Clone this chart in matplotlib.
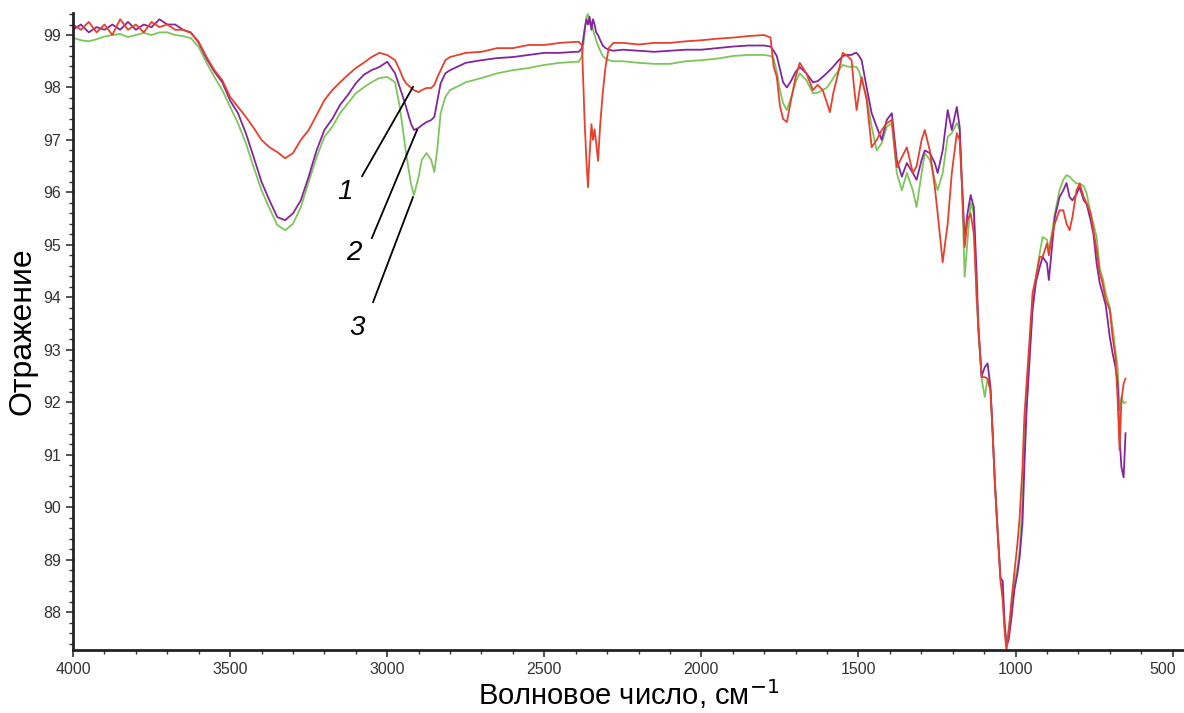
import matplotlib
matplotlib.use("Agg")
import matplotlib.pyplot as plt
from matplotlib.ticker import MultipleLocator
from matplotlib.transforms import ScaledTranslation

plt.rcParams['font.family'] = ['Liberation Sans', 'DejaVu Sans']

# wavenumber grid, cm-1
wavenumber = [4000, 3975, 3950, 3925, 3900, 3875, 3850, 3825, 3800, 3775,
              3750, 3725, 3700, 3675, 3650, 3625, 3600, 3575, 3550, 3525,
              3500, 3475, 3450, 3425, 3400, 3375, 3350, 3325, 3300, 3275,
              3250, 3225, 3200, 3175, 3150, 3125, 3100, 3075, 3050, 3025,
              3000, 2975, 2960, 2950, 2940, 2925, 2915, 2900, 2890, 2875,
              2860, 2850, 2840, 2830, 2815, 2800, 2750, 2700, 2650, 2600,
              2550, 2500, 2450, 2400, 2390, 2380, 2372, 2366, 2361, 2356,
              2350, 2345, 2340, 2335, 2329, 2322, 2314, 2305, 2295, 2280,
              2250, 2200, 2150, 2100, 2050, 2000, 1950, 1900, 1850, 1800,
              1780, 1770, 1760, 1750, 1740, 1728, 1715, 1700, 1687, 1666,
              1645, 1630, 1614, 1600, 1591, 1580, 1570, 1550, 1535, 1522,
              1514, 1506, 1498, 1490, 1474, 1458, 1442, 1426, 1410, 1394,
              1378, 1362, 1346, 1327, 1315, 1299, 1289, 1273, 1257, 1248,
              1232, 1216, 1203, 1187, 1178, 1171, 1162, 1153, 1143, 1133,
              1124, 1118, 1108, 1098, 1089, 1080, 1073, 1066, 1057, 1048,
              1041, 1035, 1029, 1022, 1013, 1004, 994, 987, 978, 972,
              965, 955, 946, 935, 923, 914, 900, 894, 885, 875,
              860, 848, 838, 828, 819, 806, 796, 783, 774, 761,
              752, 742, 732, 723, 713, 700, 691, 682, 675, 669,
              663, 656, 650]

# sample 1 (red)
red = [99.2, 99.1, 99.25, 99.05, 99.2, 99.0, 99.3, 99.1, 99.2, 99.05,
       99.25, 99.15, 99.2, 99.1, 99.1, 99.04, 98.87, 98.58, 98.33, 98.14,
       97.82, 97.63, 97.44, 97.23, 97.0, 96.86, 96.77, 96.65, 96.75, 97.0,
       97.19, 97.47, 97.76, 97.95, 98.1, 98.24, 98.37, 98.47, 98.58, 98.66,
       98.62, 98.52, 98.33, 98.18, 98.08, 98.0, 97.95, 97.91, 97.95, 97.99,
       97.99, 98.05, 98.2, 98.33, 98.52, 98.58, 98.66, 98.68, 98.75, 98.75,
       98.81, 98.81, 98.85, 98.87, 98.87, 98.8, 97.4, 96.6, 96.1, 96.7,
       97.3, 97.0, 97.2, 96.95, 96.6, 97.3, 97.9, 98.4, 98.75, 98.85,
       98.85, 98.82, 98.85, 98.85, 98.88, 98.9, 98.93, 98.95, 98.98, 99.0,
       98.95, 98.4, 98.2, 97.65, 97.4, 97.34, 97.75, 98.2, 98.47, 98.27,
       97.95, 98.05, 97.95, 97.7, 97.53, 97.9, 98.14, 98.66, 98.6, 98.52,
       98.0, 97.57, 97.9, 98.2, 97.76, 96.86, 97.0, 97.19, 97.32, 97.38,
       96.48, 96.67, 96.86, 96.37, 96.5, 97.0, 97.19, 96.8, 96.1, 95.6,
       94.67, 95.41, 96.37, 97.13, 97.0, 96.18, 94.96, 95.47, 95.6, 95.22,
       94.08, 93.38, 92.48, 92.48, 92.45, 92.23, 91.41, 90.46, 89.5, 88.6,
       88.23, 87.65, 87.28, 87.6, 88.23, 88.74, 89.31, 89.81, 90.76, 91.72,
       92.36, 93.24, 94.08, 94.39, 94.77, 94.77, 95.03, 94.8, 95.15, 95.41,
       95.66, 95.66, 95.41, 95.28, 95.53, 96.04, 96.17, 95.91, 95.8, 95.6,
       95.28, 94.9, 94.46, 94.27, 93.95, 93.76, 93.24, 92.86, 92.04, 91.09,
       92.04, 92.36, 92.45]

# sample 2 (purple)
purple = [99.1, 99.2, 99.05, 99.15, 99.1, 99.2, 99.1, 99.25, 99.1, 99.2,
          99.15, 99.3, 99.2, 99.2, 99.1, 99.05, 98.85, 98.55, 98.3, 98.1,
          97.75, 97.51, 97.13, 96.67, 96.2, 95.85, 95.53, 95.47, 95.6, 95.85,
          96.3, 96.8, 97.19, 97.4, 97.67, 97.86, 98.08, 98.24, 98.33, 98.39,
          98.49, 98.27, 98.0, 97.82, 97.63, 97.32, 97.19, 97.23, 97.28, 97.34,
          97.38, 97.44, 97.76, 98.08, 98.27, 98.33, 98.47, 98.52, 98.56, 98.58,
          98.62, 98.66, 98.66, 98.68, 98.68, 98.75, 99.1, 99.3, 99.2, 99.35,
          99.1, 99.3, 99.2, 99.05, 99.0, 98.9, 98.8, 98.75, 98.72, 98.7,
          98.72, 98.7, 98.68, 98.7, 98.72, 98.72, 98.75, 98.78, 98.8, 98.8,
          98.78, 98.7, 98.6, 98.35, 98.1, 98.0, 98.12, 98.3, 98.39, 98.27,
          98.1, 98.12, 98.2, 98.28, 98.33, 98.4, 98.47, 98.6, 98.62, 98.62,
          98.65, 98.66, 98.6, 98.52, 98.0, 97.51, 97.25, 97.0, 97.38, 97.51,
          96.62, 96.3, 96.56, 96.37, 96.24, 96.62, 96.8, 96.75, 96.56, 96.37,
          96.8, 97.57, 97.19, 97.63, 97.25, 96.24, 95.09, 95.6, 95.95, 95.72,
          94.46, 93.4, 92.5, 92.67, 92.74, 92.3, 91.45, 90.5, 89.55, 88.65,
          88.6, 87.8, 87.35, 87.47, 87.9, 88.42, 88.74, 89.05, 89.7, 90.76,
          91.85, 92.86, 93.76, 94.3, 94.58, 94.77, 94.65, 94.33, 94.9, 95.53,
          95.91, 96.04, 96.18, 95.91, 95.85, 95.97, 96.1, 95.85, 95.78, 95.47,
          95.2, 94.65, 94.27, 94.08, 93.85, 93.24, 92.93, 92.67, 92.36, 91.34,
          90.76, 90.57, 91.41]

# sample 3 (green)
green = [98.95, 98.9, 98.88, 98.92, 98.97, 99.0, 99.02, 98.96, 99.0, 99.04,
         99.0, 99.05, 99.05, 99.0, 98.98, 98.94, 98.77, 98.47, 98.2, 97.95,
         97.63, 97.32, 96.94, 96.48, 96.04, 95.7, 95.38, 95.28, 95.4, 95.72,
         96.2, 96.67, 97.06, 97.25, 97.51, 97.7, 97.89, 98.0, 98.1, 98.18,
         98.2, 98.1, 97.63, 97.19, 96.75, 96.18, 95.95, 96.3, 96.62, 96.75,
         96.62, 96.39, 96.86, 97.51, 97.82, 97.95, 98.1, 98.18, 98.27, 98.33,
         98.37, 98.43, 98.47, 98.49, 98.49, 98.6, 99.0, 99.35, 99.4, 99.2,
         99.25, 99.1, 99.0, 98.9, 98.8, 98.7, 98.6, 98.55, 98.52, 98.5,
         98.5, 98.47, 98.45, 98.45, 98.5, 98.52, 98.55, 98.6, 98.62, 98.62,
         98.6, 98.55, 98.3, 97.95, 97.7, 97.57, 97.8, 98.1, 98.27, 98.14,
         97.89, 97.9, 97.95, 98.0, 98.08, 98.18, 98.27, 98.43, 98.4, 98.39,
         98.4, 98.39, 98.3, 98.14, 97.82, 97.25, 96.8, 96.94, 97.25, 97.32,
         96.37, 96.04, 96.37, 96.04, 95.72, 96.37, 96.75, 96.62, 96.24, 96.04,
         96.37, 97.06, 97.13, 97.32, 97.2, 96.18, 94.39, 95.09, 95.8, 95.6,
         93.95, 93.32, 92.45, 92.1, 92.45, 92.23, 91.41, 90.5, 89.55, 88.65,
         88.4, 87.75, 87.4, 87.7, 88.04, 88.55, 88.86, 89.18, 90.13, 91.09,
         91.98, 92.99, 93.81, 94.4, 94.85, 95.15, 95.1, 94.9, 95.2, 95.6,
         96.04, 96.24, 96.33, 96.3, 96.24, 96.17, 96.17, 96.12, 95.99, 95.6,
         95.4, 95.15, 94.55, 94.38, 94.08, 93.81, 93.43, 92.98, 92.67, 91.85,
         92.1, 91.98, 92.0]

labels = ['1', '2', '3']

fig = plt.figure(figsize=(11.84, 7.13), dpi=100)
ax = fig.add_axes([0.0617, 0.0884, 0.938, 0.8934])

ax.plot(wavenumber, green, color='#7cc65c', lw=1.3)
ax.plot(wavenumber, purple, color='#84269a', lw=1.3)
ax.plot(wavenumber, red, color='#e8402c', lw=1.3)

ax.set_xlim(4000, 465)
ax.set_ylim(87.28, 99.42)

# leader lines for the curve numbers
ax.plot([3080, 2918], [96.31, 98.01], color='black', lw=1.3)
ax.plot([3049, 2905], [95.13, 97.19], color='black', lw=1.3)
ax.plot([3045, 2918], [93.91, 95.91], color='black', lw=1.3)
ax.text(3135, 96.0, labels[0], fontsize=20, style='italic', ha='center', va='center')
ax.text(3106, 94.84, labels[1], fontsize=20, style='italic', ha='center', va='center')
ax.text(3096, 93.41, labels[2], fontsize=20, style='italic', ha='center', va='center')

ax.xaxis.set_major_locator(MultipleLocator(500))
ax.xaxis.set_minor_locator(MultipleLocator(100))
ax.yaxis.set_major_locator(MultipleLocator(1))
ax.yaxis.set_minor_locator(MultipleLocator(0.2))

for s in ['top', 'right']:
    ax.spines[s].set_visible(False)
for s in ['left', 'bottom']:
    ax.spines[s].set_linewidth(2)
    ax.spines[s].set_color('#222222')

ax.tick_params(which='major', direction='out', length=5, width=1.2,
               colors='#333333', labelsize=11.5)
ax.tick_params(which='minor', direction='out', length=3, width=1, colors='#333333')

ax.set_xlabel('Волновое число, см$^{-1}$', fontsize=21, labelpad=0)
ax.set_ylabel('Отражение', fontsize=23, labelpad=4)

# keep the last x tick label inside the figure
fig.canvas.draw()
for lab in ax.get_xticklabels():
    if lab.get_text() == '500':
        lab.set_transform(lab.get_transform() + ScaledTranslation(-7 / 72, 0, fig.dpi_scale_trans))

fig.savefig('out.png', dpi=100)
